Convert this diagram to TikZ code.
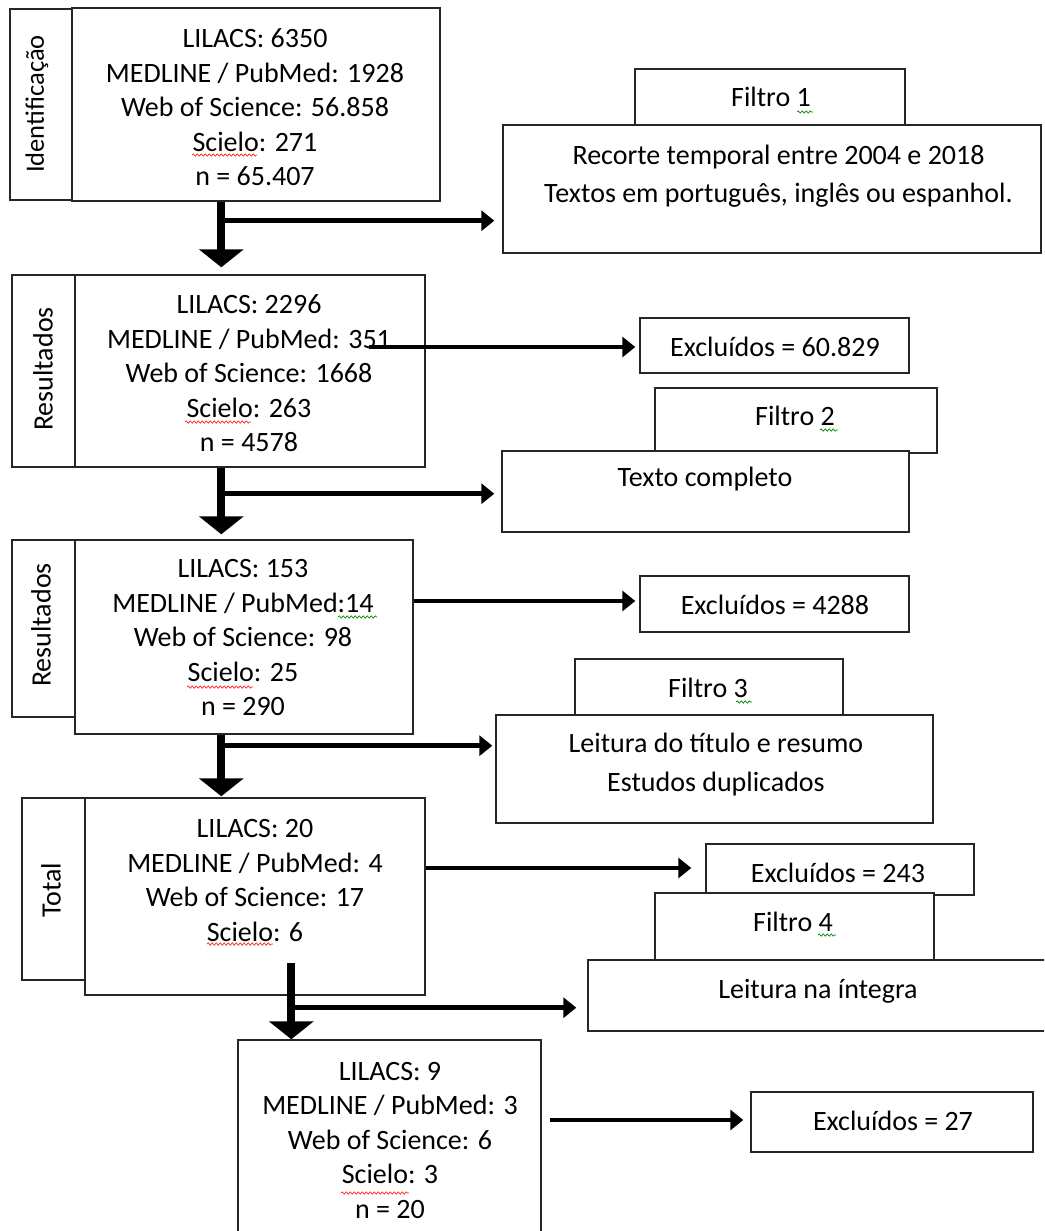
\documentclass[tikz,border=0pt]{standalone}
\usepackage{fontspec}
\setmainfont{Carlito}
\usetikzlibrary{arrows.meta,fit,decorations.pathmorphing}
\begin{document}
\begin{tikzpicture}[x=1pt,y=-1pt,
  box/.style={draw=black!85, line width=1.4pt, fill=white, inner sep=0pt},
  txt/.style={font=\fontsize{28pt}{34.5pt}\selectfont, align=center, inner sep=0pt, text=black},
  lbl/.style={txt, rotate=90},
  stem/.style={line width=8pt, -{Triangle[width=44pt,length=18pt]}},
  harrow/.style={line width=4.5pt, -{Triangle[width=20pt,length=13pt]}},
  redsq/.style={draw=red!85, line width=0.7pt, decorate, decoration={snake, amplitude=1.2pt, segment length=4pt}},
  grsq/.style={draw=green!55!black, line width=0.7pt, decorate, decoration={snake, amplitude=1.2pt, segment length=4pt}}]
\useasboundingbox (0,0) rectangle (1044,1231);
\clip (0,0) rectangle (1044,1231);

% ---------- boxes ----------
\node[box, fit={(10,9)(72,200)}]    (lab1) {};
\node[box, fit={(72,8)(440,201)}]   (b1) {};
\node[box, fit={(635,69)(905,125)}] (f1) {};
\node[box, fit={(503,125)(1041,253)}] (rec) {};
\node[box, fit={(12,275)(75,467)}]  (lab2) {};
\node[box, fit={(75,275)(425,467)}] (b2) {};
\node[box, fit={(640,318)(909,373)}] (ex1) {};
\node[box, fit={(655,388)(937,453)}] (f2) {};
\node[box, fit={(502,451)(909,532)}] (tc) {};
\node[box, fit={(12,540)(75,717)}]  (lab3) {};
\node[box, fit={(75,540)(413,734)}] (b3) {};
\node[box, fit={(640,576)(909,632)}] (ex2) {};
\node[box, fit={(575,659)(843,715)}] (f3) {};
\node[box, fit={(496,715)(933,823)}] (lt) {};
\node[box, fit={(22,798)(85,980)}]  (lab4) {};
\node[box, fit={(85,798)(425,995)}] (b4) {};
\node[box, fit={(706,844)(974,895)}] (ex3) {};
\node[box, fit={(655,893)(934,960)}] (f4) {};
\node[box, fit={(588,960)(1052,1031)}] (li) {};
\node[box, fit={(238,1040)(541,1245)}] (b5) {};
\node[box, fit={(751,1092)(1033,1152)}] (ex4) {};

% ---------- texts ----------
\node[lbl, font=\fontsize{26.5pt}{32pt}\selectfont] (l1) at (37,104) {Identificação};
\node[lbl] (l2) at (43,369) {Resultados};
\node[lbl] (l3) at (41,625) {Resultados};
\node[lbl] (l4) at (51,890) {Total};

\node[txt] (t1) at (255,107.5) {LILACS: 6350\\MEDLINE / PubMed: 1928\\Web of Science: 56.858\\Scielo: 271\\n = 65.407};
\node[txt] (t2) at (249,373.5) {LILACS: 2296\\MEDLINE / PubMed: 351\\Web of Science: 1668\\Scielo: 263\\n = 4578};
\node[txt] (t3) at (243,638) {LILACS: 153\\MEDLINE / PubMed:14\\Web of Science: 98\\Scielo: 25\\n = 290};
\node[txt] (t4) at (255,880.5) {LILACS: 20\\MEDLINE / PubMed: 4\\Web of Science: 17\\Scielo: 6};
\node[txt] (t5) at (390,1140) {LILACS: 9\\MEDLINE / PubMed: 3\\Web of Science: 6\\Scielo: 3\\n = 20};

\node[txt] (tf1) at (771,97) {Filtro 1};
\node[txt] (trec) at (778.5,176) {Recorte temporal entre 2004 e 2018\\[3pt]Textos em português, inglês ou espanhol.};
\node[txt] (tex1) at (775,347) {Excluídos = 60.829};
\node[txt] (tf2) at (795,416) {Filtro 2};
\node[txt] (ttc) at (705,479) {Texto completo};
\node[txt] (tex2) at (775,605) {Excluídos = 4288};
\node[txt] (tf3) at (708,688) {Filtro 3};
\node[txt] (tlt) at (716,764.5) {Leitura do título e resumo\\[4pt]Estudos duplicados};
\node[txt] (tex3) at (838,873) {Excluídos = 243};
\node[txt] (tf4) at (793,922) {Filtro 4};
\node[txt] (tli) at (818,991) {Leitura na íntegra};
\node[txt] (tex4) at (893,1121) {Excluídos = 27};

% ---------- junction points ----------
\coordinate (j1) at ([xshift=150pt,yshift=-19pt]b1.south west);
\coordinate (j2) at ([xshift=147pt,yshift=-26pt]b2.south west);
\coordinate (j3) at ([xshift=147pt,yshift=-11pt]b3.south west);
\coordinate (s4) at ([xshift=207pt,yshift=33pt]b4.south west);
\coordinate (j4) at ([xshift=207pt,yshift=-12pt]b4.south west);
\coordinate (a2s) at ([xshift=-57pt]b2.east);

% ---------- vertical arrows ----------
\draw[stem, shorten >=7pt] ([xshift=150pt]b1.south west) -- ([xshift=147pt]b2.north west);
\draw[stem, shorten >=5pt] ([xshift=147pt]b2.south west) -- ([xshift=147pt]b3.north west);
\draw[stem, shorten >=1pt] ([xshift=147pt]b3.south west) -- ([xshift=137pt]b4.north west);
\draw[stem] (s4) -- ([xshift=54pt]b5.north west);

% ---------- horizontal arrows ----------
\draw[harrow, shorten >=8pt] (j1) -- (j1 -| rec.west);
\draw[harrow, shorten >=4pt] (a2s |- 0,347) -- (ex1.west |- 0,347);
\draw[harrow, shorten >=7pt] (j2) -- (j2 -| tc.west);
\draw[harrow, shorten >=4pt] (b3.east |- 0,601) -- (ex2.west |- 0,601);
\draw[harrow, shorten >=3pt] (j3) -- (j3 -| lt.west);
\draw[harrow, shorten >=14pt] (b4.east |- 0,868) -- (ex3.west |- 0,868);
\draw[harrow, shorten >=11pt] (j4) -- (j4 -| li.west);
\draw[harrow, shorten >=7pt] ([xshift=8pt]b5.east |- 0,1120) -- (ex4.west |- 0,1120);

% ---------- spell-check squiggles ----------
\draw[redsq] (192,155) -- (257,155);
\draw[redsq] (185,422) -- (251,422);
\draw[redsq] (187,687) -- (253,687);
\draw[redsq] (207,944) -- (273,944);
\draw[redsq] (341,1193) -- (409,1193);
\draw[grsq] (338,617) -- (377,617);
\draw[grsq] (797,112) -- (813,112);
\draw[grsq] (820,430) -- (838,430);
\draw[grsq] (736,702) -- (752,702);
\draw[grsq] (818,935) -- (836,935);
\end{tikzpicture}
\end{document}
